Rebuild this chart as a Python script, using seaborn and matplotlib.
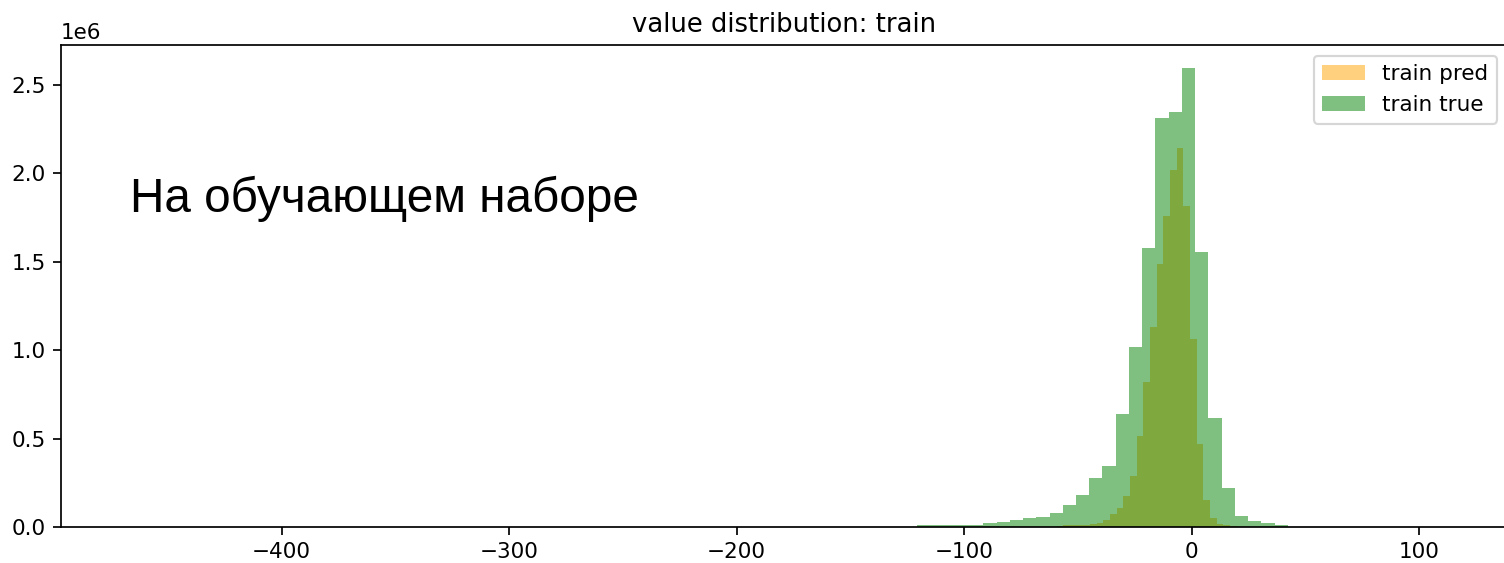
import numpy as np
import pandas as pd
import matplotlib
matplotlib.use("Agg")
import matplotlib.pyplot as plt
import seaborn as sns

# ---- data ----
# "train true": 28 bins of width ~5.817 starting at -120.6
true_start = -120.6
true_width = 5.817
true_counts = [0.011, 0.012, 0.012, 0.013, 0.014, 0.022, 0.031, 0.041,
               0.052, 0.057, 0.082, 0.126, 0.180, 0.277, 0.347, 0.637,
               1.020, 1.576, 2.311, 2.346, 2.594, 1.557, 0.618, 0.222,
               0.064, 0.036, 0.021, 0.012]  # x 1e6

# "train pred": 27 bins of width ~2.93 starting at -59.26
pred_start = -59.26
pred_width = 2.93
pred_counts = [0.008, 0.009, 0.010, 0.011, 0.013, 0.016, 0.021, 0.040,
               0.072, 0.107, 0.177, 0.290, 0.515, 0.822, 1.133, 1.486,
               1.761, 2.019, 2.141, 1.816, 1.062, 0.469, 0.151, 0.050,
               0.019, 0.011, 0.008]  # x 1e6

labels = ["train pred", "train true"]
title = "value distribution: train"
note = "На обучающем наборе"
x_limits = (-497.0, 139.1)
y_max = 2.726e6

def bins_for(start, width, counts):
    n = len(counts)
    centers = start + width * (np.arange(n) + 0.5)
    df = pd.DataFrame({"value": centers, "count": np.array(counts) * 1e6})
    return (start, start + width * n), df

W, H, DPI = 1504, 563, 155
fig = plt.figure(figsize=(W / DPI, H / DPI), dpi=DPI)
ax = fig.add_axes([61 / W, 36 / H, (1508 - 61) / W, 482 / H])

rng, df = bins_for(pred_start, pred_width, pred_counts)
sns.histplot(data=df, x="value", weights="count", binwidth=pred_width,
             binrange=rng, color="orange", alpha=0.5, edgecolor="none",
             linewidth=0, label=labels[0], ax=ax)
rng, df = bins_for(true_start, true_width, true_counts)
sns.histplot(data=df, x="value", weights="count", binwidth=true_width,
             binrange=rng, color="green", alpha=0.5, edgecolor="none",
             linewidth=0, label=labels[1], ax=ax)

ax.set_xlim(*x_limits)
ax.set_ylim(0, y_max)
ax.set_ylabel("")
ax.set_xlabel("")
ax.set_title(title)
ax.legend(loc="upper right")

fig.text(130 / W, 1 - 212 / H, note, fontsize=22.2, family="Liberation Sans",
         color="black", va="baseline", ha="left")

fig.savefig("out.png", dpi=DPI)
